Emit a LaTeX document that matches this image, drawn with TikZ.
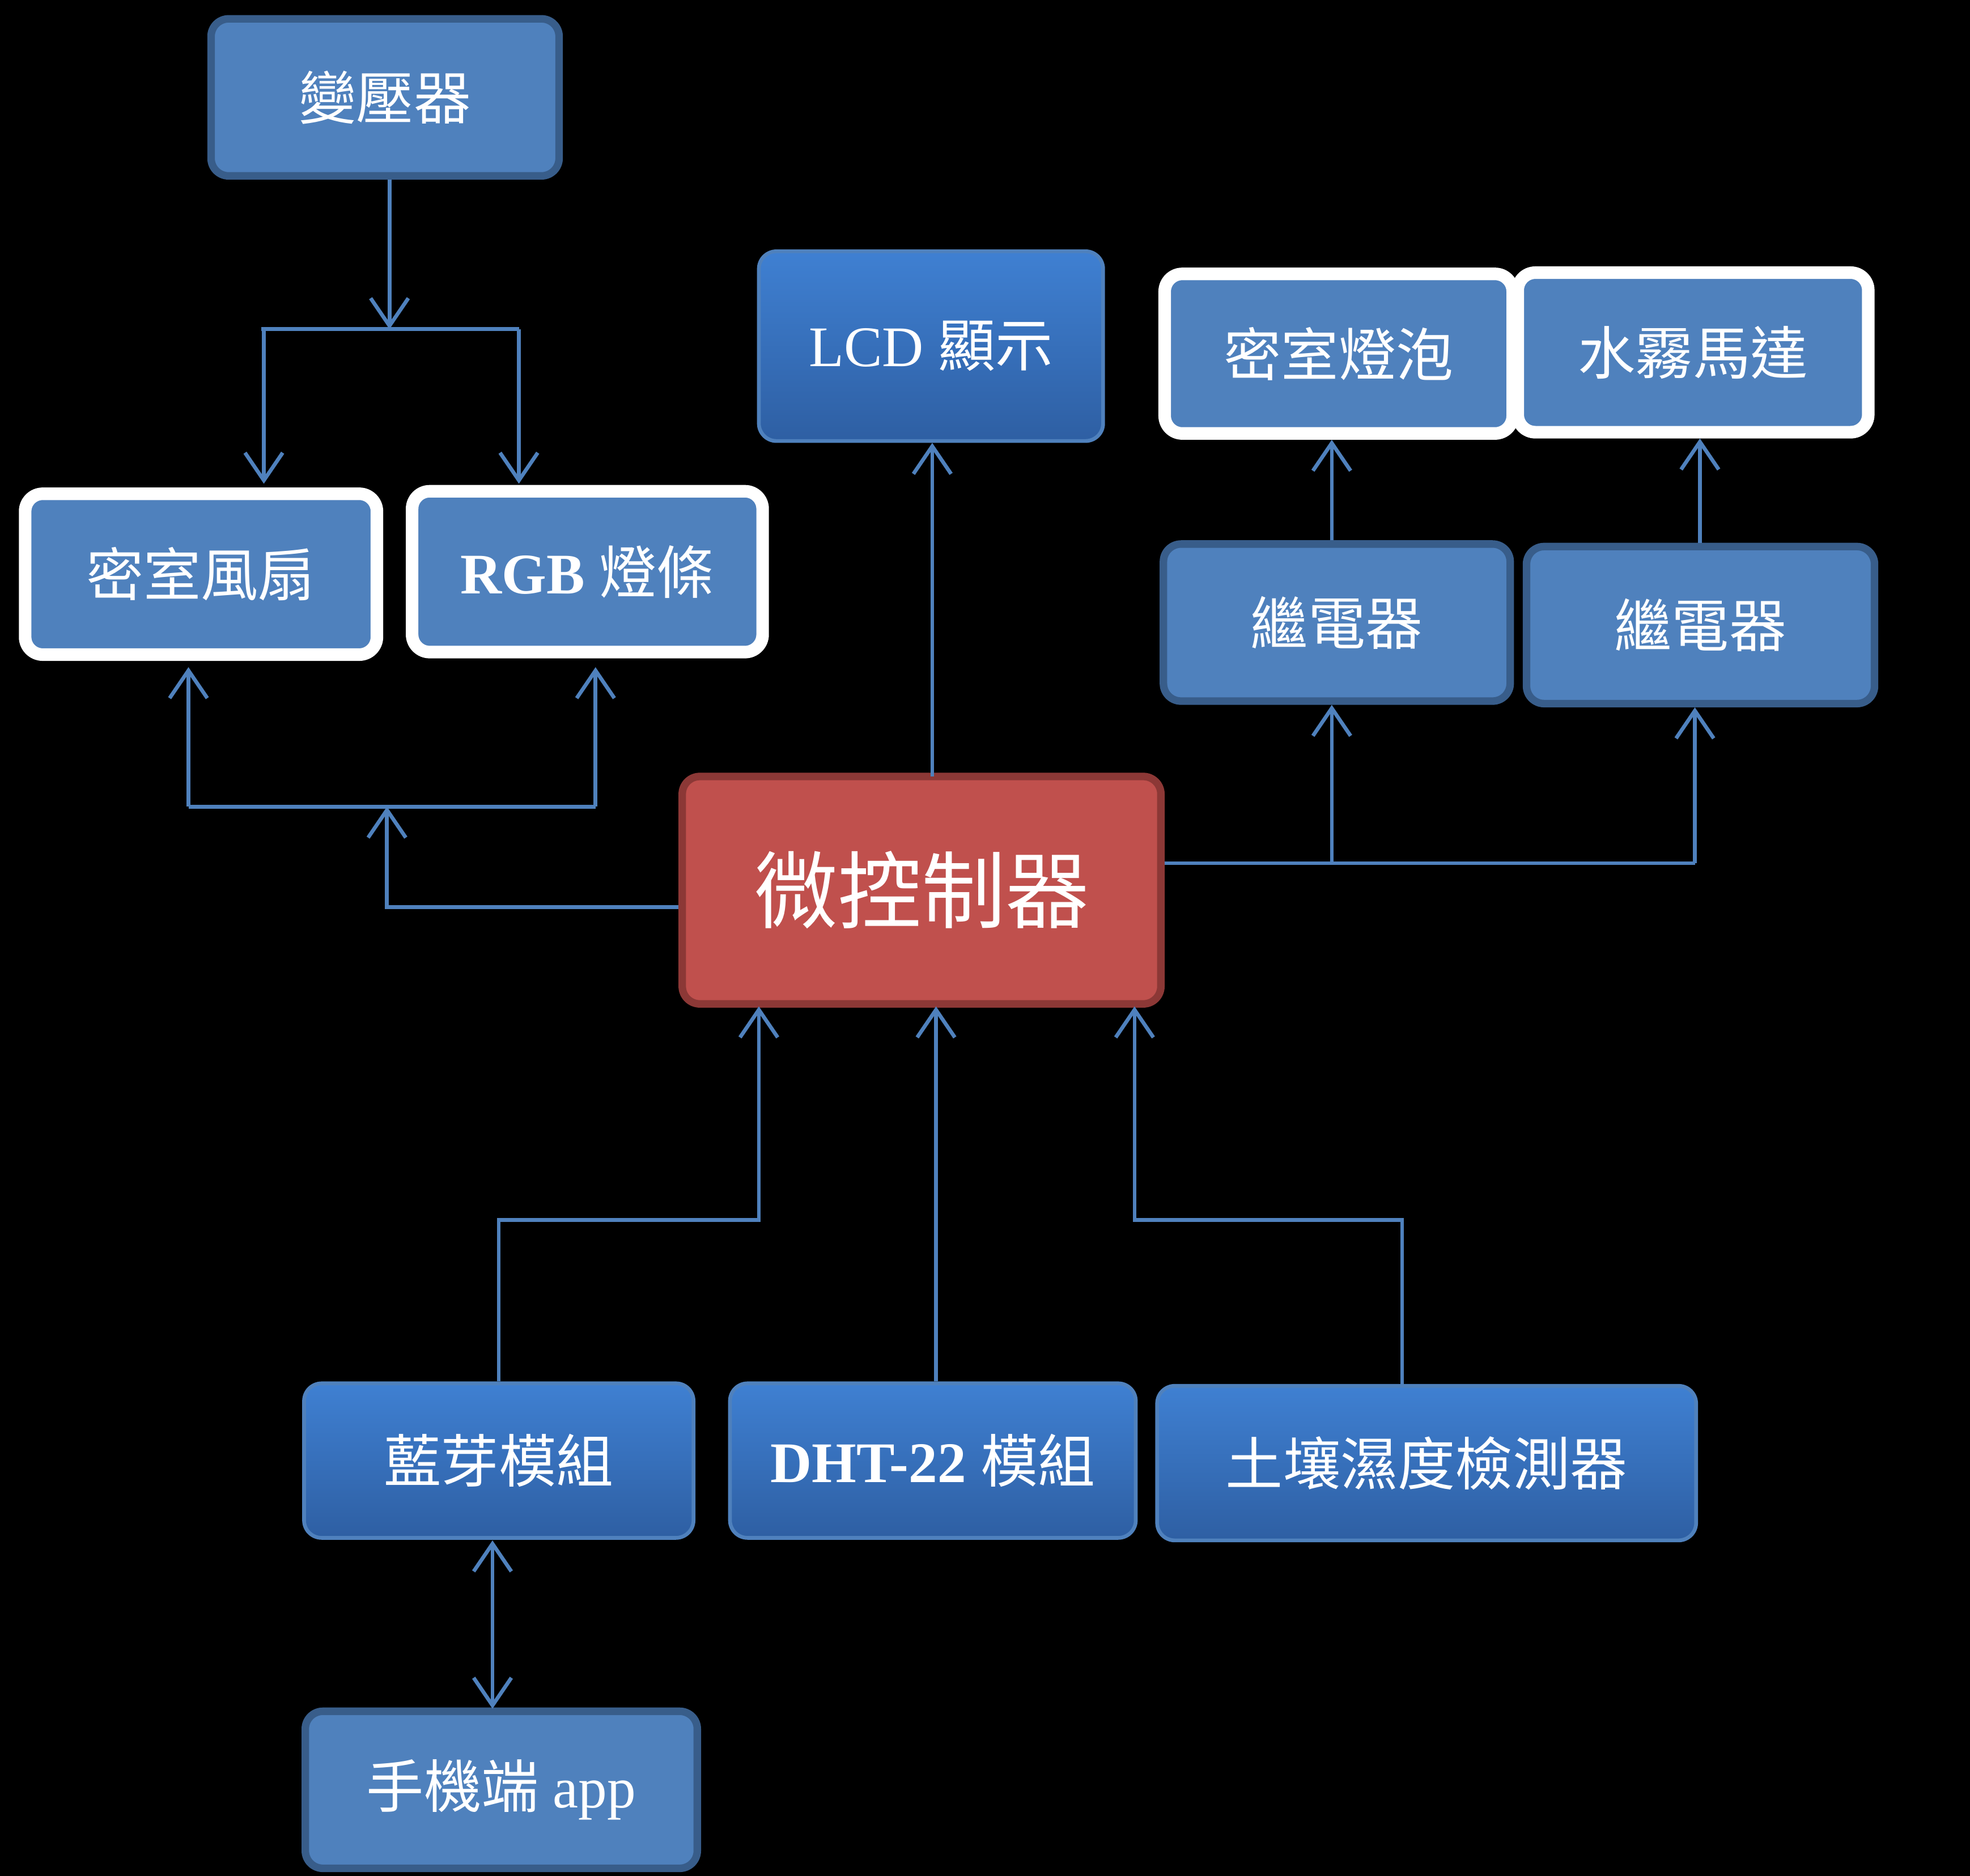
\documentclass[tikz,border=0pt]{standalone}
\usepackage{fontspec}
\setmainfont{Liberation Serif}
\newfontfamily\cjk{Noto Sans CJK TC}
\usetikzlibrary{arrows.meta}

\definecolor{boxblue}{HTML}{4F81BD}
\definecolor{darkblue}{HTML}{385D8A}
\definecolor{topblue}{HTML}{3F80D2}
\definecolor{botblue}{HTML}{2E5FA3}
\definecolor{boxred}{HTML}{C0504D}
\definecolor{darkred}{HTML}{8C3836}

\tikzset{
    box/.style={rounded corners=0.14cm, text=white, font=\fontsize{13}{15}\selectfont,
        inner sep=0pt, align=center},
    plain/.style={box, fill=boxblue, draw=darkblue, line width=0.06cm},
    white/.style={box, fill=boxblue, draw=white, line width=0.1cm},
    shade/.style={box, top color=topblue, bottom color=botblue, draw=boxblue, line width=0.03cm},
    link/.style={draw=boxblue, line width=0.03cm},
    arr/.style={link, -{Straight Barb[length=0.22cm, width=0.3cm]}},
}

\begin{document}
\begin{tikzpicture}
    \useasboundingbox[fill=black] (0,0) rectangle (15.68,-14.93);

    % Power side
    \node[plain, minimum width=2.77cm, minimum height=1.25cm] (trans) at (3.065,-0.775) {\cjk 變壓器};
    \node[white, minimum width=2.8cm, minimum height=1.28cm] (fan) at (1.6,-4.57) {\cjk 密室風扇};
    \node[white, minimum width=2.79cm, minimum height=1.28cm] (rgb) at (4.675,-4.55) {\textbf{RGB} {\cjk 燈條}};

    % Display
    \node[shade, minimum width=2.74cm, minimum height=1.51cm] (lcd) at (7.41,-2.755) {LCD {\cjk 顯示}};

    % Right side outputs
    \node[white, minimum width=2.77cm, minimum height=1.27cm] (bulb) at (10.655,-2.815) {\cjk 密室燈泡};
    \node[white, minimum width=2.79cm, minimum height=1.27cm] (mist) at (13.475,-2.805) {\cjk 水霧馬達};
    \node[plain, minimum width=2.76cm, minimum height=1.25cm] (relayA) at (10.64,-4.955) {\cjk 繼電器};
    \node[plain, minimum width=2.77cm, minimum height=1.25cm] (relayB) at (13.535,-4.975) {\cjk 繼電器};

    % Microcontroller
    \node[box, fill=boxred, draw=darkred, line width=0.06cm, minimum width=3.81cm, minimum height=1.81cm,
        font=\fontsize{19}{22}\selectfont] (mcu) at (7.335,-7.085) {\cjk 微控制器};

    % Inputs
    \node[shade, minimum width=3.1cm, minimum height=1.23cm] (bt) at (3.97,-11.625) {\cjk 藍芽模組};
    \node[shade, minimum width=3.23cm, minimum height=1.23cm] (dht) at (7.425,-11.625) {\textbf{DHT-22} {\cjk 模組}};
    \node[shade, minimum width=4.29cm, minimum height=1.23cm] (soil) at (11.355,-11.645) {\cjk 土壤濕度檢測器};
    \node[plain, minimum width=3.12cm, minimum height=1.25cm] (app) at (3.99,-14.245) {{\cjk 手機端} app};

    % Junctions
    \coordinate (tj) at (3.1,-2.62);
    \coordinate (lj) at (3.08,-6.42);
    \coordinate (rj) at (13.49,-6.87);

    % Power to fan and strip
    \draw[arr] (trans.south -| tj) -- (tj);
    \draw[link] (2.08,-2.62) -- (4.13,-2.62);
    \draw[arr] (2.1,-2.62) -- (2.1,-3.85);
    \draw[arr] (4.13,-2.62) -- (4.13,-3.85);

    % Controller to fan and strip
    \draw[arr] (mcu.west |- 0,-7.22) -- (3.08,-7.22) -- (lj);
    \draw[link] (1.5,-6.42) -- (4.74,-6.42);
    \draw[arr] (1.5,-6.42) -- (1.5,-5.31);
    \draw[arr] (4.74,-6.42) -- (4.74,-5.31);

    % Controller to display
    \draw[arr] (7.42,-6.18) -- (lcd.south -| 7.42,0);

    % Controller to relays
    \draw[link] (mcu.east |- rj) -- (rj);
    \draw[arr] (10.6,-6.87) -- (relayA.south -| 10.6,0);
    \draw[arr] (rj) -- (relayB.south -| rj);
    \draw[arr] (relayA.north -| 10.6,0) -- (bulb.south -| 10.6,0);
    \draw[arr] (relayB.north -| 13.53,0) -- (mist.south -| 13.53,0);

    % Inputs to controller
    \draw[arr] (bt.north -| 3.97,0) -- (3.97,-9.71) -- (6.04,-9.71) -- (6.04,-8.01);
    \draw[arr] (dht.north -| 7.45,0) -- (7.45,-8.01);
    \draw[arr] (soil.north -| 11.16,0) -- (11.16,-9.71) -- (9.03,-9.71) -- (9.03,-8.01);

    % Phone link
    \draw[link, {Straight Barb[length=0.22cm, width=0.3cm]}-{Straight Barb[length=0.22cm, width=0.3cm]}]
        (3.92,-12.26) -- (3.92,-13.6);

\end{tikzpicture}
\end{document}
